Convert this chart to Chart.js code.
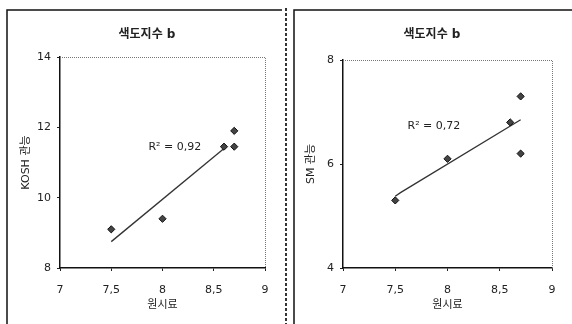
<!DOCTYPE html>
<html>
<head>
<meta charset="utf-8">
<script src="https://cdn.jsdelivr.net/npm/chart.js@4.4.1/dist/chart.umd.min.js"></script>
<style>
  html, body { margin: 0; padding: 0; background: #fff; }
  #wrap { position: relative; width: 572px; height: 324px; overflow: hidden; }
  #c1 { position: absolute; left: 0; top: 0; }
  #c2 { position: absolute; left: 287px; top: 0; }
</style>
</head>
<body>
<div id="wrap">
  <canvas id="c1" width="287" height="324"></canvas>
  <canvas id="c2" width="285" height="324"></canvas>
</div>
<script>
// Sample measurements: 원시료 (x) against the two sensory scores
const sampleX   = [7.5, 8.0, 8.6, 8.7, 8.7];
const koshY     = [9.1, 9.4, 11.45, 11.9, 11.45];
const smY       = [5.3, 6.1, 6.8, 7.3, 6.2];

// Linear trend lines
const koshTrendX = [7.5, 8.6];
const koshTrendY = [8.75, 11.4];
const smTrendX   = [7.5, 7.55, 8.7];
const smTrendY   = [5.38, 5.45, 6.85];

// Axis ranges / tick steps
const xRange    = [7, 9, 0.5];
const koshRange = [8, 14, 2];
const smRange   = [4, 8, 2];

const titleText = '색도지수 b';
const xTitle    = '원시료';
const koshTitle = 'KOSH 관능';
const smTitle   = 'SM 관능';
const koshR2    = 'R² = 0,92';
const smR2      = 'R² = 0,72';

const FONT = "'DejaVu Sans', 'Noto Sans CJK KR', sans-serif";
const INK = '#222';

function toPoints(xs, ys) { return xs.map((x, i) => ({ x, y: ys[i] })); }
const comma = v => String(v).replace('.', ',');

// Frame, panel title, dotted plot border and R² note
const decor = {
  id: 'decor',
  beforeDraw(chart, args, o) {
    const ctx = chart.ctx;
    ctx.save();
    ctx.fillStyle = '#fff';
    ctx.fillRect(0, 0, chart.width, chart.height);
    ctx.strokeStyle = '#111';
    ctx.lineWidth = 1.5;
    ctx.beginPath();
    ctx.moveTo(7, 324); ctx.lineTo(7, 10); ctx.lineTo(o.frameRight, 10);
    ctx.stroke();
    if (o.dottedRight) {
      ctx.setLineDash([3, 2]);
      ctx.lineWidth = 2;
      ctx.strokeStyle = '#333';
      ctx.beginPath();
      ctx.moveTo(chart.width - 1, 8); ctx.lineTo(chart.width - 1, 324);
      ctx.stroke();
    }
    ctx.restore();
  },
  afterDraw(chart, args, o) {
    const ctx = chart.ctx;
    const a = chart.chartArea;
    ctx.save();
    // dotted top and right edges of the plot box
    ctx.strokeStyle = '#777';
    ctx.lineWidth = 1;
    ctx.setLineDash([1, 1]);
    ctx.beginPath();
    ctx.moveTo(a.left, a.top + 0.5); ctx.lineTo(a.right + 0.5, a.top + 0.5); ctx.lineTo(a.right + 0.5, a.bottom);
    ctx.stroke();
    ctx.setLineDash([]);
    // panel title
    ctx.fillStyle = INK;
    ctx.font = 'bold 12px ' + FONT;
    ctx.textAlign = 'center';
    ctx.textBaseline = 'middle';
    ctx.fillText(titleText, o.titleX, 35);
    // R² note
    const sx = chart.scales.x, sy = chart.scales.y;
    ctx.font = '11px ' + FONT;
    ctx.fillText(o.note, sx.getPixelForValue(o.noteAt[0]), sy.getPixelForValue(o.noteAt[1]));
    ctx.restore();
  }
};

function makeChart(id, ys, tx, ty, range, yTitle, opts) {
  return new Chart(document.getElementById(id), {
    type: 'scatter',
    data: {
      datasets: [
        {
          data: toPoints(tx, ty),
          showLine: true,
          borderColor: '#333',
          borderWidth: 1.3,
          pointRadius: 0,
          tension: 0,
          order: 2
        },
        {
          data: toPoints(sampleX, ys),
          pointStyle: 'rectRot',
          pointRadius: 3.6,
          backgroundColor: '#444',
          borderColor: '#111',
          borderWidth: 1,
          order: 1
        }
      ]
    },
    options: {
      responsive: false,
      animation: false,
      events: [],
      layout: { padding: { left: 0, top: opts.top, right: opts.right, bottom: 0 } },
      plugins: { legend: { display: false }, tooltip: { enabled: false }, decor: opts.decor },
      scales: {
        x: {
          type: 'linear', min: xRange[0], max: xRange[1],
          afterFit: s => { s.height = 56; },
          ticks: { stepSize: xRange[2], color: INK, font: { family: FONT, size: 11 }, padding: 13, callback: comma },
          grid: { display: true, drawOnChartArea: false, drawTicks: true, tickLength: 3, color: '#222' },
          border: { color: '#111', width: 1.5 },
          title: { display: true, text: xTitle, color: INK, font: { family: FONT, size: 11 }, padding: 12 }
        },
        y: {
          type: 'linear', min: range[0], max: range[1],
          afterFit: s => { s.width = opts.left; },
          ticks: { stepSize: range[2], color: INK, font: { family: FONT, size: 11 }, padding: 6 },
          grid: { display: true, drawOnChartArea: false, drawTicks: true, tickLength: 3, color: '#222' },
          border: { color: '#111', width: 1.5 },
          title: { display: true, text: yTitle, color: INK, font: { family: FONT, size: 11 }, padding: opts.yTitlePad }
        }
      }
    },
    plugins: [decor]
  });
}

makeChart('c1', koshY, koshTrendX, koshTrendY, koshRange, koshTitle, {
  top: 57, right: 22, left: 60, yTitlePad: 20,
  decor: { frameRight: 282, dottedRight: true, titleX: 147, note: koshR2, noteAt: [8.12, 11.45] }
});
makeChart('c2', smY, smTrendX, smTrendY, smRange, smTitle, {
  top: 60, right: 20, left: 56, yTitlePad: 18,
  decor: { frameRight: 285, dottedRight: false, titleX: 145, note: smR2, noteAt: [7.87, 6.72] }
});
</script>
</body>
</html>
